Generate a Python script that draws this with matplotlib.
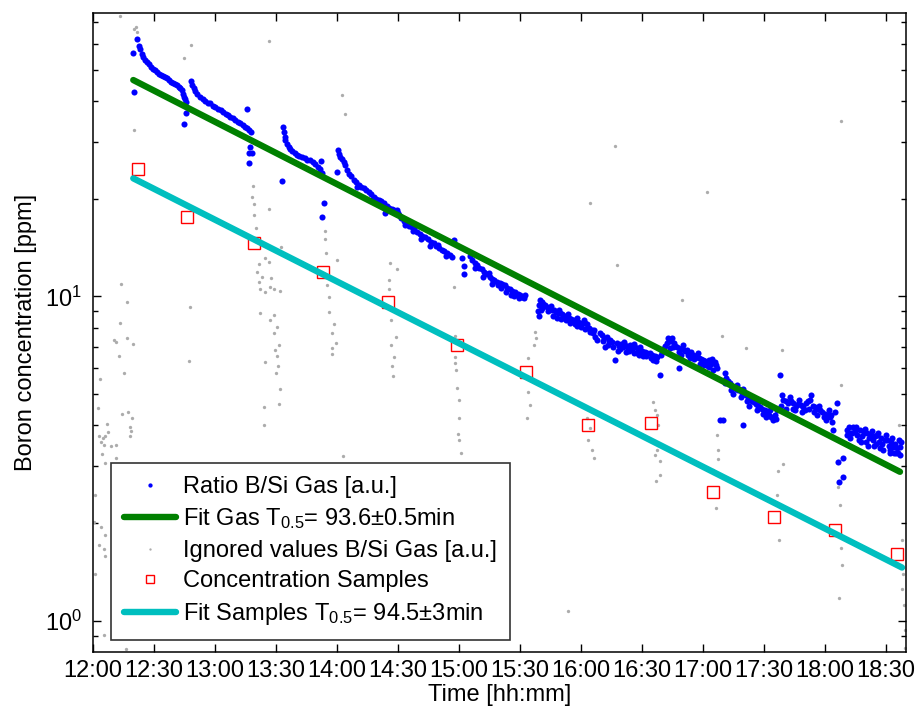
import numpy as np
import matplotlib
matplotlib.use("Agg")
from matplotlib import pyplot as plt
from matplotlib.ticker import FixedLocator, LogLocator, NullFormatter

# time axis: minutes after 12:00
tick_min = [0, 30, 60, 90, 120, 150, 180, 210, 240, 270, 300, 330, 360, 390]
tick_lab = ["12:00", "12:30", "13:00", "13:30", "14:00", "14:30", "15:00",
            "15:30", "16:00", "16:30", "17:00", "17:30", "18:00", "18:30"]

# Ratio B/Si gas (used values)
gas_t = [19.9, 20.2, 21.7, 22.4, 23.3, 24.0, 24.8, 25.6, 26.6, 27.5, 28.4, 29.4,
         30.4, 31.5, 32.5, 33.5, 34.5, 35.5, 36.5, 37.5, 38.5, 39.5, 40.4, 41.4,
         42.3, 43.0, 43.8, 44.3, 44.6, 45.2, 45.8, 45.8, 44.6,
         48.3, 48.8, 49.5, 50.3, 51.2, 52.8, 54.0, 55.2, 56.5, 57.7, 59.0, 60.2,
         61.5, 62.7, 64.0, 65.2, 66.4, 67.6, 68.8, 70.0, 71.2, 72.5, 73.6, 74.7,
         75.8, 76.8, 77.7, 75.8, 77.4, 76.6, 78.0, 76.9,
         93.0, 93.5, 93.8, 94.3, 94.6, 95.5, 96.3, 97.1, 98.0, 99.2, 100.3, 101.5,
         102.7, 104.0, 105.2, 106.9, 108.0, 109.2, 110.5, 111.8, 112.3, 112.6,
         113.4, 112.6,
         120.0, 120.3, 120.8, 121.3, 122.2, 123.2, 124.1, 124.9, 126.0, 127.1,
         128.2, 129.5, 130.7, 131.9, 133.1, 134.3, 135.6, 136.8, 138.0, 139.3,
         140.5, 141.7, 142.9, 143.7, 144.5, 145.6, 146.8, 148.0, 149.5, 150.5,
         151.5, 152.7, 154.4, 155.5, 156.8, 158.0, 159.3, 160.9, 162.0, 163.3,
         164.7, 166.0, 167.5, 168.8, 170.2, 171.5, 172.8, 174.1, 175.4, 176.5,
         177.3, 161.5, 165.5, 169.5, 173.5, 181.4, 182.2, 182.2,
         185.5, 186.5, 187.6, 188.8, 190.0, 191.2, 192.5, 193.7, 195.0, 196.2,
         197.4, 198.7, 200.0, 201.3, 202.5, 203.7, 205.0, 206.2, 207.5, 208.8,
         210.1, 211.0, 211.7, 212.2, 196.0, 200.5, 205.5,
         218.6, 219.1, 219.5, 219.9, 220.8, 221.5, 222.2, 223.2, 224.5, 225.5,
         226.6, 227.6, 228.7, 229.7, 230.8, 231.9, 233.0, 234.0, 235.1, 236.3,
         237.4, 238.5, 239.6, 240.7, 241.8, 242.8, 243.8, 244.6, 245.3, 246.0,
         247.0, 247.8, 226.0, 230.0, 234.5, 238.0, 242.0,
         249.4, 250.5, 251.5, 252.5, 253.5, 254.3, 255.3, 256.8, 257.5, 258.5,
         259.5, 260.7, 261.8, 263.0, 264.1, 265.2, 266.3, 267.4, 268.0, 269.0,
         270.0, 271.2, 272.5, 273.9, 275.0, 276.2, 277.5, 278.9, 279.5, 280.5,
         281.3, 282.2, 283.0, 284.0, 284.6, 285.5, 286.3, 287.1, 287.9, 288.5,
         289.5, 290.5, 291.3, 292.0, 293.0, 294.0, 295.0, 296.0, 296.9, 298.0,
         299.0, 300.0, 301.0, 301.8, 302.8, 304.0, 305.1, 305.9, 306.8,
         252.0, 258.0, 262.0, 266.0, 270.5, 275.5, 283.5, 289.0, 293.5, 298.5, 303.0,
         308.4, 310.0, 310.8, 311.5, 312.3, 313.3, 314.3, 315.3, 316.2, 317.2,
         318.2, 319.2, 319.8, 320.2, 321.2, 322.1, 323.1, 324.1, 325.0, 326.0,
         327.0, 328.0, 329.0, 330.2, 331.3, 332.4, 333.5, 334.6, 335.5, 336.5,
         337.8, 338.5, 339.5, 340.7, 341.9, 343.1, 344.4, 345.6, 346.8, 348.0,
         349.3, 350.5, 351.6, 352.6, 353.8, 355.0, 356.3, 357.5, 358.7, 360.0,
         361.2, 362.4, 363.5, 364.0, 365.0, 365.7,
         314.8, 318.7, 322.5, 326.5, 330.7, 341.0, 345.0, 348.5, 352.0, 356.0, 360.5,
         366.5, 367.0, 369.0, 369.0, 370.6, 371.5, 372.5, 373.9, 374.8, 375.8,
         377.1, 378.0, 379.0, 380.4, 381.5, 382.5, 383.5, 384.5, 385.4, 386.5,
         387.5, 388.6, 389.3, 390.3, 391.3, 392.3, 393.5, 394.5, 395.5, 396.0,
         396.8, 397.5, 372.0, 376.5, 380.0, 384.0, 388.0, 392.0, 395.0,
         # extra scatter in the later, noisier part
         130.0, 137.5, 144.0, 150.0, 153.5, 157.5,
         188.0, 192.0, 194.5, 199.0, 203.0, 207.0, 209.5,
         221.0, 223.8, 228.0, 232.5, 236.8, 240.0, 244.2, 246.5, 220.2, 225.0,
         229.2, 233.6, 237.9, 241.3,
         251.0, 253.0, 255.8, 259.0, 261.2, 263.5, 265.8, 268.5, 271.8, 274.5,
         277.0, 280.0, 282.8, 285.0, 288.0, 290.0, 292.5, 295.5, 297.5, 300.5,
         302.3, 304.5, 306.2,
         311.0, 313.8, 316.8, 319.5, 321.7, 324.5, 327.5, 329.5, 333.0, 336.0,
         339.0, 342.5, 344.0, 347.3, 350.0, 353.0, 354.5, 357.0, 359.3, 361.8,
         363.0,
         371.0, 373.0, 375.3, 377.8, 379.5, 381.0, 383.0, 385.0, 386.0, 387.0,
         389.8, 391.8, 393.0, 394.0, 396.3, 397.0]
gas_v = [56.1, 42.7, 62.0, 59.0, 58.0, 56.0, 54.5, 53.6, 52.8, 52.0, 51.0, 50.3,
         49.8, 49.2, 48.6, 48.0, 47.6, 47.3, 47.0, 46.4, 45.9, 45.5, 45.2, 44.8,
         44.2, 43.8, 43.2, 42.0, 41.2, 40.5, 39.8, 36.6, 33.9,
         46.2, 44.9, 43.8, 42.8, 42.0, 41.2, 40.5, 40.0, 39.5, 39.3, 38.7, 38.2,
         37.8, 37.5, 37.0, 36.5, 36.1, 35.8, 35.4, 35.0, 34.5, 34.1, 33.7, 33.3,
         32.9, 32.5, 32.1, 37.7, 28.9, 27.6, 27.6, 25.8,
         22.6, 33.2, 32.0, 31.0, 30.3, 29.5, 28.9, 28.5, 28.0, 27.6, 27.3, 27.0,
         26.8, 26.6, 26.4, 26.3, 25.9, 25.5, 25.1, 24.6, 26.2, 24.0,
         19.4, 17.6,
         24.2, 28.3, 27.5, 26.9, 26.5, 26.0, 25.4, 24.5, 23.9, 23.5,
         22.8, 22.5, 22.1, 21.8, 21.5, 21.2, 20.9, 20.6, 20.3, 20.0,
         19.8, 19.6, 19.4, 18.0, 19.0, 18.7, 18.6, 18.5, 18.5, 17.8,
         17.4, 17.1, 16.8, 16.5, 16.4, 16.1, 15.8, 15.6, 15.3, 15.2,
         15.0, 14.7, 14.6, 14.3, 14.1, 13.9, 13.8, 13.6, 13.4, 13.2,
         14.9, 15.0, 14.3, 14.4, 13.3, 13.1, 12.4, 11.7,
         13.3, 12.9, 12.7, 12.5, 12.2, 12.1, 11.9, 11.7, 11.5, 11.3,
         11.2, 11.1, 11.0, 10.9, 10.8, 10.6, 10.5, 10.4, 10.3, 10.2,
         10.1, 9.95, 9.85, 10.1, 10.9, 10.6, 10.1,
         9.0, 8.67, 9.4, 9.75, 9.6, 9.5, 9.4, 9.3, 9.2, 9.1,
         9.05, 8.95, 8.9, 8.87, 8.8, 8.7, 8.65, 8.6, 8.5, 8.46,
         8.4, 8.35, 8.3, 8.28, 8.26, 8.2, 8.0, 7.9, 7.88, 7.7,
         7.5, 7.34, 8.7, 8.5, 8.3, 8.1, 7.95,
         7.7, 7.6, 7.45, 7.5, 7.3, 7.34, 7.25, 6.37, 7.2, 7.05,
         7.15, 7.0, 7.1, 6.95, 7.1, 6.9, 7.0, 6.67, 6.85, 6.97,
         6.8, 6.75, 6.7, 6.67, 6.6, 6.55, 6.5, 5.73, 6.6, 6.9,
         7.05, 7.16, 7.3, 7.3, 7.42, 7.2, 7.05, 6.97, 6.0, 6.9,
         6.95, 6.85, 6.8, 6.84, 6.7, 6.75, 6.6, 6.55, 6.52, 6.45,
         6.4, 6.35, 6.3, 6.22, 6.35, 6.2, 5.93, 6.29, 6.0,
         7.0, 6.8, 6.75, 6.7, 6.55, 6.35, 6.95, 6.6, 6.45, 6.2, 6.05,
         4.16, 4.16, 5.79, 5.6, 5.5, 5.39, 5.3, 5.25, 5.2, 5.15,
         5.15, 5.05, 4.02, 5.0, 4.95, 4.88, 4.80, 4.75, 4.72, 4.65,
         4.6, 4.57, 4.5, 4.45, 4.36, 4.3, 4.25, 4.16, 4.3, 4.45,
         5.73, 4.6, 4.80, 4.75, 4.7, 4.75, 4.68, 4.6, 4.65, 4.62,
         4.57, 4.7, 4.75, 4.80, 4.6, 4.55, 4.5, 4.47, 4.4, 4.35,
         4.3, 4.25, 4.1, 3.88, 4.4, 4.68,
         5.0, 4.9, 4.6, 4.45, 4.25, 4.5, 4.45, 4.4, 4.5, 4.3, 4.15,
         3.09, 2.67, 3.17, 2.78, 3.88, 3.95, 3.8, 3.97, 3.85, 3.75,
         3.88, 3.7, 3.8, 3.78, 3.65, 3.75, 3.6, 3.7, 3.74, 3.55,
         3.65, 3.36, 3.6, 3.61, 3.45, 3.55, 3.44, 3.5, 3.4, 3.28,
         3.44, 3.55, 3.65, 3.6, 3.55, 3.45, 3.5, 3.35, 3.3,
         21.8, 20.0, 18.6, 18.0, 16.6, 15.9,
         12.2, 11.5, 11.8, 10.8, 10.3, 10.0, 9.9,
         9.2, 9.0, 8.6, 8.45, 8.2, 8.05, 7.75, 7.9, 9.1, 9.35,
         9.1, 8.8, 8.6, 8.45,
         7.3, 7.1, 7.0, 6.9, 7.25, 6.8, 7.15, 6.6, 6.55, 6.45,
         6.3, 6.75, 7.45, 7.0, 6.75, 7.1, 6.6, 6.4, 6.7, 6.15,
         6.1, 6.4, 6.15,
         5.4, 5.15, 5.35, 5.2, 4.75, 4.9, 4.75, 4.35, 4.45, 4.2,
         4.95, 4.9, 4.5, 4.8, 4.45, 4.95, 4.4, 4.6, 4.25, 4.45,
         4.3,
         3.75, 3.8, 3.95, 3.55, 3.9, 3.45, 3.85, 3.5, 3.8, 3.4,
         3.75, 3.3, 3.65, 3.3, 3.6, 3.25]

# ignored gas values (transients after sampling)
ign_t = [13.5, 20.9, 21.4, 20.4, 20.0, 44.6, 48.1, 86.4, 122.5, 124.1, 256.8,
         244.5, 257.9, 302.0, 289.5, 309.2, 321.1, 338.8, 367.7, 396.3, 367.8,
         14.0, 16.5, 13.2, 10.2, 11.1, 16.8, 19.6, 13.0, 15.1, 3.2, 2.6, 14.3,
         17.1, 19.3, 18.1, 18.9, 18.1, 7.0, 7.5, 2.9, 4.8, 6.1, 3.7, 5.3, 8.9,
         11.4, 4.5, 11.4, 47.6, 47.1, 6.1, 1.2, 0.7, 3.7, 6.1, 2.9, 5.3, 6.1,
         1.2, 5.3, 16.0,
         78.5, 78.4, 79.0, 79.4, 79.9, 86.7, 92.6, 81.5, 84.8, 86.4, 80.7, 83.1,
         87.7, 81.5, 87.2, 82.3, 84.8, 92.1, 88.8, 82.0, 88.8, 87.2, 90.5, 88.8,
         91.3, 89.7, 90.5, 84.8, 91.0, 90.0, 92.1, 91.6, 83.9, 84.3,
         113.9, 114.3, 114.6, 119.8, 115.1, 115.9, 116.2, 118.3, 117.5, 119.5,
         117.5, 117.5, 122.9,
         145.8, 149.5, 145.4, 145.7, 146.7, 149.1, 146.7, 147.8, 147.0, 147.5,
         177.6, 178.1, 177.8, 178.1, 178.6, 179.0, 179.8, 180.2, 179.5, 180.2,
         180.9,
         217.4, 217.9, 216.6, 213.7, 214.0, 215.0, 213.5,
         243.0, 244.5, 243.5, 245.4, 246.4, 233.7,
         275.6, 276.4, 277.2, 278.0, 277.2, 276.4, 278.9, 278.9, 276.9,
         306.7, 307.5, 307.5, 304.9, 306.4,
         339.2, 337.0, 336.4, 337.3,
         366.5, 367.3, 367.8, 368.3, 366.8,
         397.8, 398.3, 397.8, 398.8, 399.3, 399.3]
ign_v = [73.0, 67.7, 65.4, 66.5, 32.6, 54.1, 59.5, 61.2, 41.7, 36.5, 29.1,
         19.4, 12.5, 21.0, 9.75, 7.55, 6.95, 6.84, 5.32, 4.01, 34.7,
         10.9, 9.63, 8.26, 7.34, 7.25, 7.43, 7.12, 6.56, 5.80, 5.55, 4.52, 4.33,
         4.40, 4.23, 3.97, 3.85, 3.70, 4.04, 3.83, 3.70, 3.65, 3.72, 3.55, 3.48, 3.47,
         3.48, 3.27, 3.17, 9.26, 6.34, 3.07, 2.44, 2.02, 1.95, 1.84, 1.71, 1.67, 1.58,
         1.39, 0.906, 0.818,
         21.9, 20.3, 19.3, 17.8, 16.2, 18.6, 14.2, 12.6, 13.1, 12.8, 11.9, 11.5,
         11.4, 11.1, 10.7, 10.5, 10.3, 10.4, 10.5, 8.91, 8.76, 8.46, 8.07, 7.70,
         7.09, 6.84, 6.55, 6.27, 6.11, 5.80, 5.17, 4.66, 4.55, 4.00,
         15.9, 15.0, 13.6, 12.9, 10.8, 9.98, 8.93, 8.22, 7.73, 7.20,
         6.92, 6.65, 3.22,
         12.7, 12.1, 11.2, 10.5, 8.46, 7.48, 7.09, 6.52, 6.12, 5.70,
         10.7, 7.55, 6.49, 6.22, 5.93, 5.21, 4.80, 4.23, 3.76, 3.61,
         3.29,
         7.79, 7.43, 7.09, 6.45, 5.08, 4.63, 4.22,
         4.22, 3.93, 3.61, 3.36, 3.18, 1.07,
         4.74, 4.47, 4.31, 4.02, 3.35, 3.25, 3.10, 2.82, 2.70,
         3.74, 3.35, 3.15, 2.92, 2.23,
         3.05, 2.90, 2.44, 1.78,
         2.58, 2.28, 1.68, 1.49, 1.18,
         1.78, 1.39, 1.25, 1.12, 0.94, 0.826]

# concentration samples
samp_t = [22.2, 46.3, 79.2, 112.9, 145.1, 179.1, 213.0, 243.5, 274.4, 304.9,
          334.9, 364.9, 395.4]
samp_v = [24.7, 17.6, 14.6, 11.9, 9.61, 7.08, 5.85, 4.02, 4.07, 2.50,
          2.09, 1.91, 1.61]

# exponential fits (end points)
fit_gas_t = [19.8, 396.8]
fit_gas_v = [46.4, 2.88]
fit_samp_t = [19.8, 397.8]
fit_samp_v = [23.1, 1.46]

plt.rcParams['font.family'] = ['Liberation Sans', 'DejaVu Sans']
plt.rcParams['mathtext.default'] = 'regular'
plt.rcParams['font.size'] = 17

fig = plt.figure(figsize=(9.2, 7.11), dpi=100)
ax = fig.add_axes([0.1011, 0.0830, 0.8842, 0.8983])

ax.plot(gas_t, gas_v, 'o', color='#0000ff', ms=4.4, mew=0,
        label='Ratio B/Si Gas [a.u.]')
ax.plot(fit_gas_t, fit_gas_v, '-', color='#008000', lw=4.6,
        solid_capstyle='round', label='Fit Gas T$_{0.5}$= 93.6±0.5min')
ax.plot(ign_t, ign_v, 'o', color='#acacac', ms=2.4, mew=0,
        label='Ignored values B/Si Gas [a.u.]')
ax.plot(samp_t, samp_v, 's', mfc='none', mec='#ff0000', ms=8, mew=1.0,
        label='Concentration Samples')
ax.plot(fit_samp_t, fit_samp_v, '-', color='#00bfbf', lw=4.6,
        solid_capstyle='round', label='Fit Samples T$_{0.5}$= 94.5±3min')

ax.set_yscale('log')
ax.set_ylim(0.802, 74.5)
ax.set_xlim(0, 400)
ax.xaxis.set_major_locator(FixedLocator(tick_min))
ax.set_xticklabels(tick_lab)
ax.yaxis.set_minor_locator(LogLocator(base=10, subs=np.arange(2, 10)))
ax.yaxis.set_minor_formatter(NullFormatter())

ax.tick_params(which='both', direction='in', top=True, right=True, width=1.0)
ax.tick_params(which='major', length=5.5, pad=6)
ax.tick_params(which='minor', length=3.5)
ax.tick_params(axis='y', pad=8)
for s in ax.spines.values():
    s.set_linewidth(1.1)

ax.set_xlabel('Time [hh:mm]', labelpad=1)
ax.set_ylabel('Boron concentration [ppm]', labelpad=6)

leg = ax.legend(loc='lower left', bbox_to_anchor=(0.0218, 0.0188),
                borderaxespad=0, fancybox=False, framealpha=1,
                edgecolor='#333333', handlelength=2.2, handletextpad=0.3,
                labelspacing=0.36, borderpad=0.55, markerscale=0.7)
leg.get_frame().set_linewidth(1.2)

fig.savefig('out.png', dpi=100)
